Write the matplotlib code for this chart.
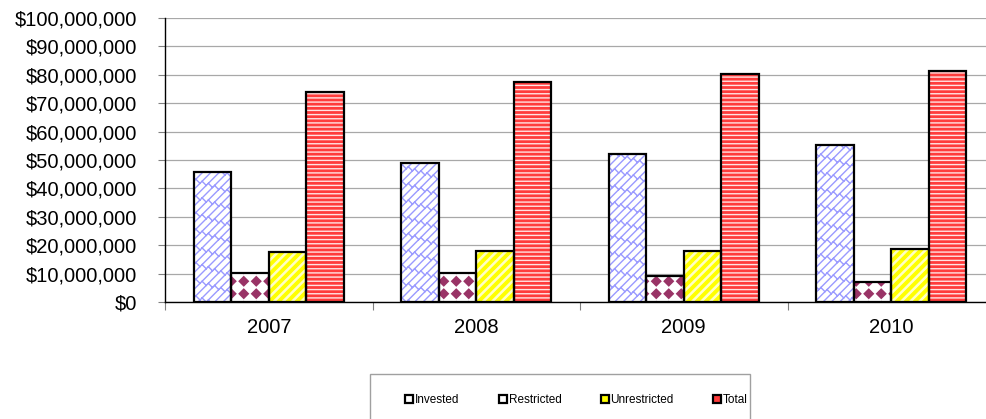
import numpy as np
import matplotlib
matplotlib.use("Agg")
import matplotlib.pyplot as plt
import matplotlib.hatch as mhatch
from matplotlib.path import Path
from matplotlib.lines import Line2D
from matplotlib.patches import Rectangle
from matplotlib.ticker import FuncFormatter, FixedLocator, MultipleLocator

# ---------------------------------------------------------------- data
years = ["2007", "2008", "2009", "2010"]
series_names = ["Invested", "Restricted", "Unrestricted", "Total"]
invested = [45.7e6, 49.1e6, 52.0e6, 55.4e6]
restricted = [10.3e6, 10.2e6, 9.3e6, 7.0e6]
unrestricted = [17.5e6, 18.0e6, 18.1e6, 18.6e6]
total = [73.9e6, 77.6e6, 80.2e6, 81.3e6]
y_max = 100e6
y_step = 10e6

# ---------------------------------------------------------------- fill patterns
MOVETO, LINETO, CLOSE = Path.MOVETO, Path.LINETO, Path.CLOSEPOLY


class _CustomHatch(mhatch.HatchPatternBase):
    char = None

    def __init__(self, hatch, density):
        if hatch.count(self.char):
            v, c = self.build()
            self._verts = np.asarray(v, float)
            self._codes = np.asarray(c, dtype=Path.code_type)
        else:
            self._verts = np.empty((0, 2))
            self._codes = np.empty(0, dtype=Path.code_type)
        self.num_vertices = len(self._verts)

    def set_vertices_and_codes(self, vertices, codes):
        vertices[:] = self._verts
        codes[:] = self._codes


class BrickHatch(_CustomHatch):
    """Diagonal brick: '/' lines joined by short perpendicular strokes."""
    char = "o"

    def build(self):
        n, m = 12, 1 / 8
        v, c = [], []
        for k in range(-2 * n, 2 * n + 1):
            off = k / n
            v += [(-0.5, -0.5 + off), (1.5, 1.5 + off)]
            c += [MOVETO, LINETO]
            shift = (k % 2) * m / 2
            for j in range(-12, 23):
                t = j * m + shift
                x0, y0 = t, t + off
                x1, y1 = t - 1 / (2 * n), t + off + 1 / (2 * n)
                if -0.2 <= x0 <= 1.2 and -0.2 <= y0 <= 1.2:
                    v += [(x0, y0), (x1, y1)]
                    c += [MOVETO, LINETO]
        return v, c


class StripeHatch(_CustomHatch):
    """Wide filled diagonal stripes."""
    char = "O"

    def build(self):
        n, w = 11, 0.035
        v, c = [], []
        for k in range(-n - 1, n + 2):
            off = k / n
            v += [(-0.5, -0.5 + off), (1.5, 1.5 + off),
                  (1.5, 1.5 + off + w), (-0.5, -0.5 + off + w),
                  (-0.5, -0.5 + off)]
            c += [MOVETO, LINETO, LINETO, LINETO, CLOSE]
        return v, c


class DiamondHatch(_CustomHatch):
    """Grid of filled diamonds."""
    char = "*"

    def build(self):
        n, h = 8, 0.046
        s = 1 / n
        v, c = [], []
        for i in range(n):
            for j in range(n):
                cx, cy = (i + 0.5) * s, (j + 0.5) * s
                v += [(cx, cy + h), (cx + h, cy), (cx, cy - h),
                      (cx - h, cy), (cx, cy + h)]
                c += [MOVETO, LINETO, LINETO, LINETO, CLOSE]
        return v, c


mhatch._hatch_types[:] = [mhatch.HorizontalHatch, mhatch.VerticalHatch,
                          mhatch.NorthEastHatch, mhatch.SouthEastHatch,
                          BrickHatch, StripeHatch, DiamondHatch]

# ---------------------------------------------------------------- figure
plt.rcParams["font.family"] = ["Liberation Sans", "DejaVu Sans"]
plt.rcParams["hatch.linewidth"] = 1.0

W, H = 987, 419
fig = plt.figure(figsize=(W / 100, H / 100), dpi=100)
ax = fig.add_axes([165 / W, (H - 302) / H, 830 / W, 284 / H])

series = [invested, restricted, unrestricted, total]
styles = [
    dict(facecolor="white", edgecolor="#9a9aff", hatch="o"),
    dict(facecolor="white", edgecolor="#993366", hatch="*"),
    dict(facecolor="#ffffc4", edgecolor="#ffff00", hatch="O"),
    dict(facecolor="#ff3c3c", edgecolor="#ffe4e4", hatch="----"),
]
legend_fill = ["white", "white", "#ffff00", "#ff3c3c"]

x = np.arange(len(years))
bw = 0.181
for i, (vals, st) in enumerate(zip(series, styles)):
    pos = x + (i - 1.5) * bw
    ax.bar(pos, vals, bw, linewidth=0, zorder=2, **st)
    ax.bar(pos, vals, bw, fill=False, edgecolor="black", linewidth=1.6,
           zorder=3)

ax.set_xlim(-0.5, len(years) - 0.5)
ax.set_ylim(0, y_max)

# y axis
ax.yaxis.set_major_locator(MultipleLocator(y_step))
ax.yaxis.set_major_formatter(FuncFormatter(lambda v, p: f"${v:,.0f}"))
ax.tick_params(axis="y", which="major", length=5, width=0.8,
               color="#808080", labelsize=14.5, pad=15)
ax.grid(axis="y", color="#a8a8a8", linewidth=0.9, zorder=0)
ax.set_axisbelow(True)

# x axis: boundary ticks, centred labels
ax.xaxis.set_major_locator(FixedLocator(np.arange(len(years) + 1) - 0.5))
ax.xaxis.set_major_formatter(FuncFormatter(lambda v, p: ""))
ax.xaxis.set_minor_locator(FixedLocator(x))
ax.set_xticklabels(years, minor=True)
ax.tick_params(axis="x", which="major", length=6, width=0.8,
               color="#808080")
ax.tick_params(axis="x", which="minor", length=0, labelsize=14.5, pad=11.5)

for side in ("top", "right"):
    ax.spines[side].set_visible(False)
for side in ("left", "bottom"):
    ax.spines[side].set_color("black")
    ax.spines[side].set_linewidth(1.0)

# legend
fig.patches.append(Rectangle((370 / W, -0.1), 380 / W, 0.1 + (H - 374) / H,
                             transform=fig.transFigure, fill=False,
                             edgecolor="#a0a0a0", linewidth=1.0))
handles = [Line2D([], [], marker="s", linestyle="none", markersize=5.5,
                  markerfacecolor=fc, markeredgecolor="black",
                  markeredgewidth=1.6) for fc in legend_fill]
fig.legend(handles, series_names, loc="center",
           bbox_to_anchor=(577 / W, (H - 400) / H), ncol=4, frameon=False,
           fontsize=8.5, handlelength=0.5, handletextpad=0.25,
           columnspacing=3.4, borderpad=0)

fig.savefig("out.png", dpi=100)
